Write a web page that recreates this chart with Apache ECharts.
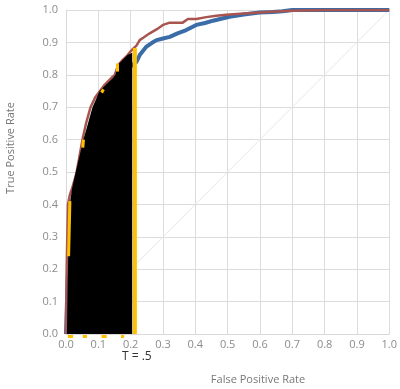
<!DOCTYPE html>
<html>
<head>
<meta charset="utf-8">
<script src="https://cdn.jsdelivr.net/npm/echarts@6/dist/echarts.min.js"></script>
<style>
html,body{margin:0;padding:0;background:#fff;}
#c{width:400px;height:389px;}
</style>
</head>
<body>
<div id="c"></div>
<script>
// Red ROC curve
const redFpr = [0, 0.002, 0.004, 0.006, 0.012, 0.019, 0.025, 0.033, 0.042, 0.051, 0.062, 0.076, 0.09, 0.105, 0.12, 0.14, 0.151, 0.161, 0.175, 0.19, 0.198, 0.207, 0.218, 0.228, 0.24, 0.259, 0.28, 0.300, 0.321, 0.345, 0.361, 0.377, 0.403, 0.434, 0.465, 0.496, 0.55, 0.599, 0.65, 0.7, 0.8, 1.0];
const redTpr = [0, 0.2, 0.3, 0.4, 0.43, 0.45, 0.47, 0.5, 0.55, 0.6, 0.65, 0.7, 0.73, 0.75, 0.77, 0.79, 0.8, 0.83, 0.845, 0.86, 0.87, 0.88, 0.89, 0.907, 0.915, 0.928, 0.94, 0.954, 0.961, 0.961, 0.961, 0.972, 0.972, 0.978, 0.982, 0.985, 0.989, 0.992, 0.995, 0.998, 1.0, 1.0];
// Blue ROC curve
const blueFpr = [0, 0.003, 0.01, 0.02, 0.04, 0.06, 0.09, 0.12, 0.15, 0.18, 0.205, 0.218, 0.228, 0.249, 0.265, 0.28, 0.3, 0.321, 0.345, 0.372, 0.403, 0.43, 0.455, 0.48, 0.506, 0.55, 0.599, 0.64, 0.67, 0.7, 0.8, 1.0];
const blueTpr = [0, 0.1, 0.3, 0.4, 0.5, 0.58, 0.66, 0.72, 0.77, 0.81, 0.83, 0.84, 0.861, 0.887, 0.898, 0.907, 0.912, 0.917, 0.928, 0.938, 0.954, 0.96, 0.967, 0.973, 0.979, 0.986, 0.992, 0.994, 0.996, 1.0, 1.0, 1.0];
// Black filled region (points below threshold)
const areaFpr = [0.003, 0.005, 0.008, 0.01, 0.013, 0.019, 0.030, 0.042, 0.054, 0.068, 0.082, 0.104, 0.124, 0.145, 0.153, 0.16, 0.174, 0.19, 0.205, 0.205];
const areaTpr = [0, 0.15, 0.28, 0.36, 0.41, 0.45, 0.5, 0.55, 0.6, 0.65, 0.7, 0.75, 0.77, 0.79, 0.8, 0.83, 0.845, 0.861, 0.868, 0];
// Threshold line T = .5
const thresholdFpr = 0.213;
const thresholdTpr = 0.883;
const thresholdLabel = 'T = .5';
// Yellow marker segments [x1, y1, x2, y2]
const yellowSegs = [
  [0.008, 0.24, 0.012, 0.41],
  [0.052, 0.575, 0.054, 0.60],
  [0.11, 0.745, 0.116, 0.755],
  [0.16, 0.81, 0.16, 0.835],
  [0.006, -0.006, 0.022, -0.006],
  [0.052, -0.006, 0.065, -0.006],
  [0.11, -0.006, 0.126, -0.006],
  [0.17, -0.006, 0.18, -0.006]
];

const zip = (a, b) => a.map((v, i) => [v, b[i]]);
const font = '"Open Sans", "Noto Sans", sans-serif';

const chart = echarts.init(document.getElementById('c'));
const axisCommon = {
  type: 'value', min: 0, max: 1, interval: 0.1,
  axisLine: { show: true, lineStyle: { color: '#d9d9d9', width: 1 } },
  axisTick: { show: false },
  splitLine: { show: true, lineStyle: { color: '#dcdcdc', width: 1 } },
  axisLabel: { color: '#8c8c8c', fontSize: 11, fontFamily: font, formatter: v => v.toFixed(1) }
};
chart.setOption({
  animation: false,
  grid: { left: 66, right: 10, top: 10, bottom: 55 },
  xAxis: Object.assign({}, axisCommon, { axisLabel: Object.assign({}, axisCommon.axisLabel, { margin: 5 }) }),
  yAxis: Object.assign({}, axisCommon, { axisLabel: Object.assign({}, axisCommon.axisLabel, { margin: 8 }) }),
  series: [
    { type: 'line', data: [[0, 0], [1, 1]], symbol: 'none', lineStyle: { color: '#e6e6e6', width: 1 }, z: 1 },
    { type: 'line', data: zip(blueFpr, blueTpr), symbol: 'none', lineStyle: { color: '#3a6ca8', width: 4 }, z: 2 },
    { type: 'line', data: zip(redFpr, redTpr), symbol: 'none', lineStyle: { color: '#a9554f', width: 2.5 }, z: 3 },
    { type: 'line', data: zip(areaFpr, areaTpr), symbol: 'none', lineStyle: { width: 0 }, areaStyle: { color: '#000', opacity: 1 }, z: 4 },
    { type: 'lines', coordinateSystem: 'cartesian2d', z: 5, clip: false,
      data: yellowSegs.map(s => ({ coords: [[s[0], s[1]], [s[2], s[3]]] })),
      lineStyle: { color: '#FFC000', width: 3, opacity: 1 } },
    { type: 'line', data: [[thresholdFpr, 0], [thresholdFpr, thresholdTpr]], symbol: 'none', lineStyle: { color: '#FFC000', width: 4 }, z: 6 }
  ],
  graphic: [
    { type: 'text', left: 122, top: 351, style: { text: thresholdLabel, fill: '#333', font: '12px ' + font } },
    { type: 'text', x: 258, y: 380, style: { text: 'False Positive Rate', fill: '#777', font: '11px ' + font, align: 'center', verticalAlign: 'middle' } },
    { type: 'text', x: 11, y: 148, rotation: Math.PI / 2, style: { text: 'True Positive Rate', fill: '#777', font: '11px ' + font, align: 'center', verticalAlign: 'middle' } }
  ]
});
</script>
</body>
</html>
